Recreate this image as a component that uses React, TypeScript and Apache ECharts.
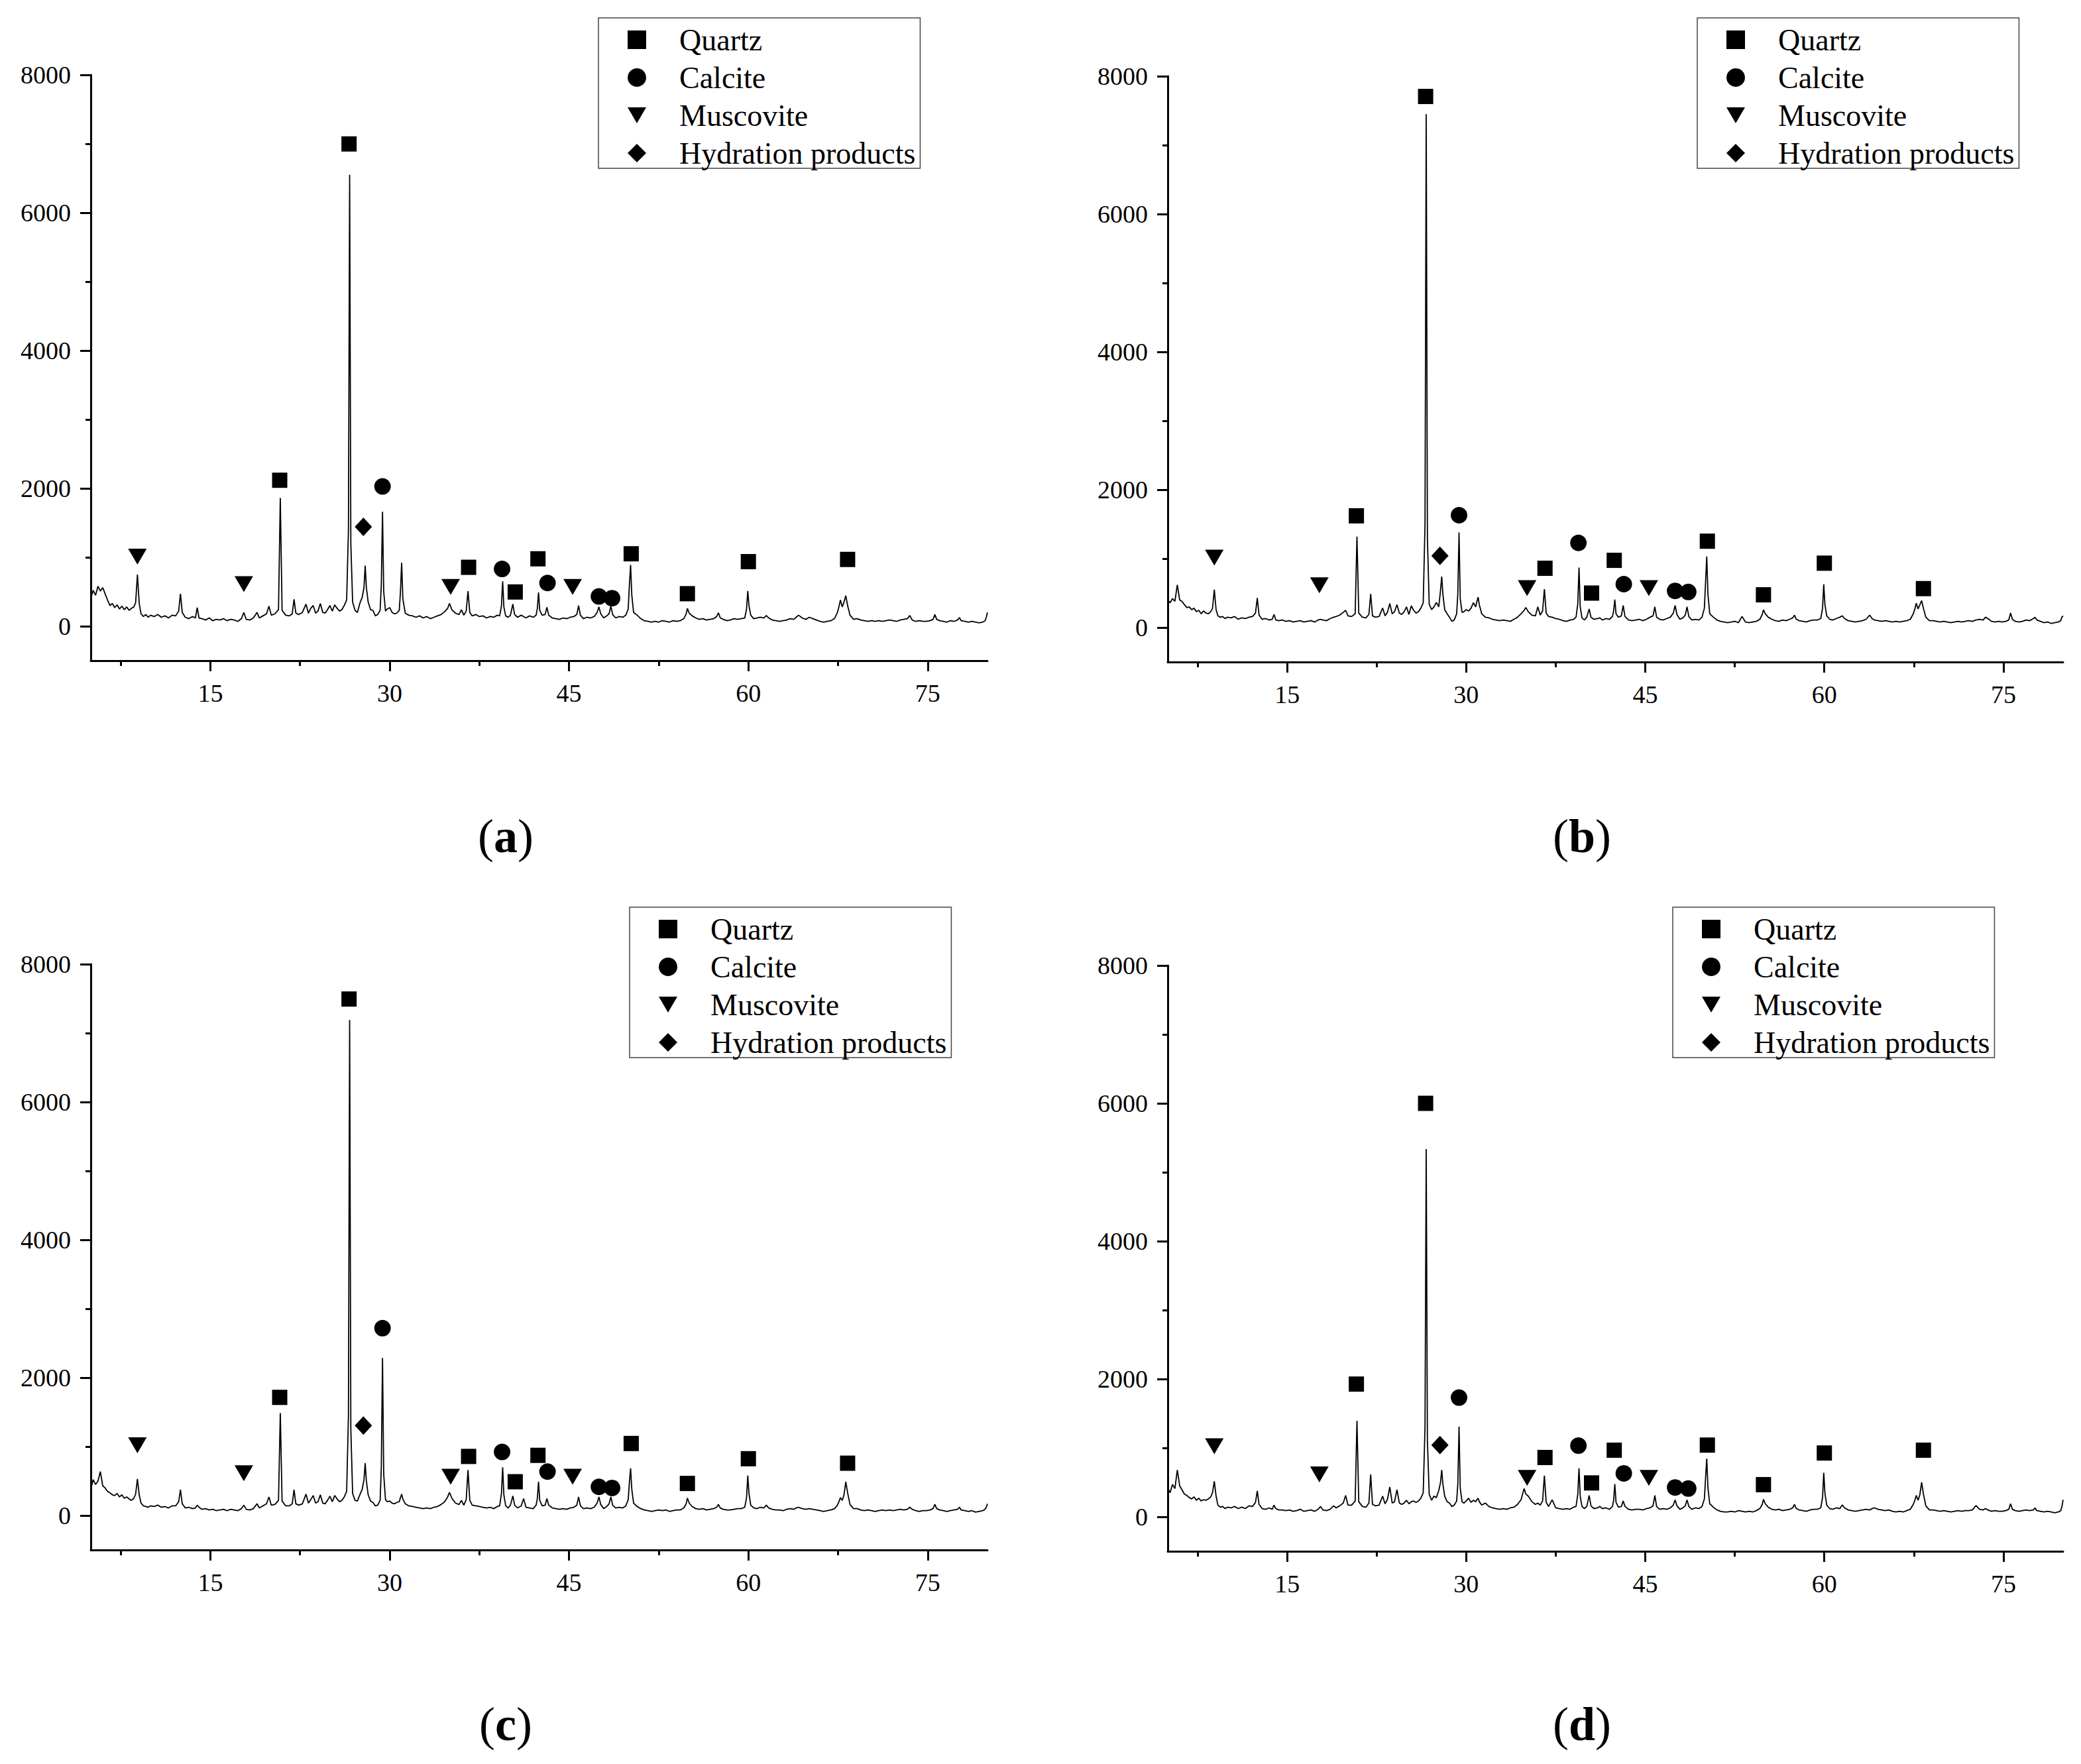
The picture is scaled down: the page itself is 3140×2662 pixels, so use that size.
import React, { useEffect, useRef } from 'react';
import * as echarts from 'echarts';

// 2θ (degrees) sampling shared by the four patterns
const twoTheta = [
  5.0, 5.2, 5.4, 5.6, 5.8, 6.0, 6.2, 6.4, 6.6, 6.8,
  7.0, 7.2, 7.4, 7.6, 7.8, 8.0, 8.2, 8.4, 8.6, 8.75,
  8.9, 9.05, 9.2, 9.4, 9.6, 9.8, 10.0, 10.3, 10.6, 10.9,
  11.2, 11.5, 11.8, 12.1, 12.35, 12.5, 12.65, 12.9, 13.2, 13.5,
  13.75, 13.9, 14.05, 14.3, 14.6, 14.9, 15.2, 15.5, 15.8, 16.1,
  16.4, 16.7, 17.0, 17.3, 17.6, 17.8, 18.0, 18.3, 18.6, 18.9,
  19.1, 19.4, 19.7, 19.9, 20.1, 20.4, 20.7, 20.85, 21.0, 21.3,
  21.6, 21.85, 22.0, 22.15, 22.4, 22.7, 23.0, 23.2, 23.4, 23.6,
  23.8, 24.0, 24.2, 24.4, 24.6, 24.8, 25.0, 25.2, 25.4, 25.6,
  25.8, 26.0, 26.2, 26.4, 26.55, 26.65, 26.75, 26.9, 27.1, 27.3,
  27.5, 27.7, 27.85, 27.95, 28.05, 28.2, 28.4, 28.6, 28.8, 29.0,
  29.2, 29.3, 29.4, 29.5, 29.65, 29.8, 30.0, 30.2, 30.4, 30.6,
  30.8, 30.9, 31.0, 31.1, 31.3, 31.6, 31.9, 32.2, 32.5, 32.8,
  33.1, 33.4, 33.7, 34.0, 34.3, 34.6, 34.85, 35.0, 35.2, 35.5,
  35.8, 36.0, 36.2, 36.4, 36.55, 36.7, 36.9, 37.2, 37.5, 37.8,
  38.1, 38.4, 38.7, 39.0, 39.2, 39.35, 39.45, 39.55, 39.7, 39.9,
  40.1, 40.3, 40.45, 40.7, 41.0, 41.2, 41.4, 41.7, 42.0, 42.25,
  42.35, 42.45, 42.55, 42.75, 43.0, 43.15, 43.3, 43.6, 43.9, 44.2,
  44.5, 44.8, 45.1, 45.4, 45.65, 45.8, 45.95, 46.2, 46.5, 46.8,
  47.1, 47.35, 47.5, 47.65, 47.9, 48.15, 48.35, 48.5, 48.65, 48.9,
  49.2, 49.5, 49.75, 49.95, 50.05, 50.15, 50.25, 50.4, 50.7, 51.0,
  51.3, 51.6, 51.9, 52.2, 52.5, 52.8, 53.1, 53.4, 53.7, 54.0,
  54.3, 54.6, 54.8, 54.9, 55.05, 55.3, 55.6, 55.9, 56.2, 56.5,
  56.8, 57.1, 57.35, 57.5, 57.65, 57.9, 58.2, 58.5, 58.8, 59.1,
  59.4, 59.7, 59.85, 59.95, 60.05, 60.2, 60.45, 60.7, 61.0, 61.3,
  61.5, 61.7, 62.0, 62.3, 62.6, 62.9, 63.2, 63.5, 63.8, 64.0,
  64.2, 64.5, 64.8, 65.1, 65.4, 65.7, 66.0, 66.3, 66.6, 66.9,
  67.2, 67.45, 67.6, 67.7, 67.85, 68.0, 68.15, 68.3, 68.5, 68.8,
  69.1, 69.4, 69.7, 70.0, 70.3, 70.6, 70.9, 71.2, 71.5, 71.8,
  72.1, 72.4, 72.7, 73.0, 73.3, 73.5, 73.7, 74.0, 74.3, 74.6,
  74.9, 75.2, 75.45, 75.6, 75.75, 76.0, 76.3, 76.6, 76.9, 77.2,
  77.5, 77.65, 77.8, 78.1, 78.4, 78.7, 79.0, 79.3, 79.6, 79.8,
  79.9, 80.0,
];

const intensityA = [
  410, 520, 450, 580, 510, 560, 470, 380, 300, 330,
  270, 310, 250, 290, 240, 280, 230, 260, 280, 340,
  750, 330, 180, 140, 170, 130, 160, 140, 170, 130,
  150, 120, 160, 150, 220, 470, 200, 130, 110, 140,
  120, 270, 120, 110, 90, 120, 80, 100, 90, 110,
  80, 100, 90, 70, 110, 200, 100, 90, 120, 200,
  120, 150, 180, 290, 160, 180, 240, 1860, 230, 160,
  150, 180, 390, 190, 170, 200, 320, 190, 260, 300,
  190, 220, 330, 200, 190, 240, 300, 220, 310, 260,
  220, 240, 300, 380, 1400, 6550, 1200, 350, 230, 200,
  330, 420, 560, 880, 560, 350, 240, 230, 150, 170,
  230, 600, 1660, 500, 220, 250, 270, 200, 180, 190,
  230, 500, 920, 400, 190, 160, 150, 130, 150, 120,
  140, 110, 130, 150, 170, 210, 260, 330, 240, 190,
  170, 240, 160, 220, 510, 200, 150, 170, 140, 150,
  120, 140, 130, 160, 150, 300, 650, 280, 150, 130,
  160, 320, 170, 130, 160, 140, 120, 150, 130, 160,
  260, 490, 230, 160, 170, 275, 160, 120, 110, 100,
  120, 110, 130, 140, 170, 300, 160, 110, 130, 120,
  140, 200, 280, 180, 120, 150, 180, 290, 170, 120,
  140, 130, 160, 250, 600, 890, 450, 200, 160, 110,
  80, 70, 60, 70, 60, 80, 70, 60, 80, 70,
  80, 110, 180, 258, 190, 150, 120, 100, 110, 90,
  100, 110, 140, 195, 120, 100, 80, 90, 110, 100,
  110, 120, 250, 512, 300, 160, 110, 120, 130, 120,
  155, 120, 90, 80, 70, 80, 90, 110, 100, 130,
  160, 120, 100, 130, 110, 90, 70, 60, 70, 80,
  110, 200, 300, 380, 280, 350, 444, 300, 160, 100,
  110, 90, 80, 70, 80, 70, 80, 70, 80, 90,
  80, 70, 90, 100, 110, 155, 90, 70, 80, 70,
  70, 80, 100, 170, 100, 80, 70, 60, 80, 70,
  90, 125, 80, 70, 60, 70, 60, 50, 60, 80,
  130, 200,
];

const intensityB = [
  400, 360, 420, 380, 620, 400, 380, 330, 290, 300,
  260, 280, 230, 250, 200, 240, 210, 200, 230, 280,
  550, 260, 170, 150, 160, 130, 150, 140, 160, 120,
  140, 130, 150, 160, 210, 430, 180, 120, 130, 110,
  120, 190, 110, 100, 110, 90, 100, 80, 90, 100,
  80, 90, 100, 80, 110, 120, 110, 100, 130, 150,
  160, 180, 220, 250, 170, 160, 200, 1320, 210, 150,
  140, 190, 487, 170, 150, 160, 283, 170, 220, 348,
  200, 230, 332, 210, 190, 230, 300, 190, 315, 250,
  210, 230, 280, 360, 1500, 7450, 1300, 340, 260, 300,
  364, 300, 540, 740, 480, 260, 200, 150, 90, 110,
  200, 500, 1380, 420, 220, 230, 260, 240, 280, 360,
  300, 380, 440, 330, 200, 150, 140, 120, 110, 100,
  110, 100, 90, 120, 150, 200, 250, 290, 230, 180,
  170, 300, 180, 240, 557, 210, 160, 150, 130, 120,
  100, 90, 110, 120, 150, 350, 870, 300, 140, 110,
  150, 270, 150, 120, 130, 140, 110, 130, 120, 160,
  240, 406, 200, 150, 170, 320, 160, 110, 100, 110,
  120, 100, 120, 150, 170, 300, 150, 120, 110, 130,
  150, 210, 320, 190, 120, 140, 180, 300, 160, 110,
  120, 110, 150, 280, 650, 1031, 480, 200, 150, 110,
  90, 80, 70, 80, 90, 70, 160, 80, 70, 80,
  90, 120, 190, 258, 200, 150, 120, 100, 90, 110,
  100, 120, 140, 180, 120, 100, 90, 80, 100, 110,
  110, 130, 280, 628, 330, 170, 120, 110, 130, 150,
  170, 130, 100, 90, 80, 90, 100, 120, 180, 130,
  110, 100, 90, 100, 90, 80, 90, 80, 90, 100,
  120, 200, 280, 354, 270, 330, 390, 280, 150, 100,
  100, 90, 80, 90, 80, 70, 80, 90, 80, 90,
  100, 90, 110, 120, 110, 150, 130, 90, 80, 90,
  80, 90, 110, 212, 120, 90, 80, 90, 110, 100,
  130, 150, 110, 90, 70, 80, 60, 70, 80, 100,
  150, 170,
];

const intensityC = [
  380, 520, 450, 500, 637, 430, 400, 350, 330, 300,
  290, 320, 270, 300, 250, 270, 240, 220, 250, 310,
  530, 300, 180, 140, 130, 120, 140, 130, 150, 120,
  130, 110, 140, 140, 200, 375, 170, 110, 120, 100,
  110, 150, 120, 90, 100, 80, 90, 70, 80, 90,
  70, 90, 80, 70, 100, 150, 90, 80, 100, 170,
  110, 140, 170, 270, 150, 160, 220, 1486, 210, 140,
  140, 170, 375, 170, 150, 170, 310, 180, 230, 290,
  180, 200, 300, 180, 170, 220, 280, 200, 290, 240,
  200, 220, 270, 350, 1450, 7190, 1250, 320, 220, 210,
  300, 380, 520, 760, 500, 300, 210, 190, 140, 150,
  220, 700, 2286, 600, 230, 200, 210, 180, 170, 190,
  200, 260, 310, 240, 170, 140, 130, 120, 110, 100,
  110, 100, 120, 130, 160, 200, 270, 335, 250, 180,
  160, 220, 150, 230, 660, 220, 150, 140, 130, 120,
  110, 120, 100, 130, 140, 320, 700, 300, 140, 110,
  150, 285, 150, 110, 140, 245, 120, 110, 100, 150,
  250, 490, 220, 140, 150, 245, 150, 110, 100, 90,
  100, 90, 110, 120, 150, 270, 140, 100, 110, 100,
  120, 180, 270, 160, 100, 130, 170, 270, 150, 110,
  120, 110, 140, 230, 480, 685, 380, 180, 130, 100,
  80, 70, 60, 70, 80, 70, 80, 60, 70, 80,
  80, 110, 170, 253, 180, 130, 100, 90, 100, 80,
  90, 100, 120, 160, 110, 90, 80, 80, 90, 100,
  100, 120, 260, 580, 320, 150, 110, 100, 120, 110,
  150, 110, 90, 80, 80, 70, 90, 100, 90, 110,
  120, 100, 90, 100, 90, 80, 70, 60, 70, 80,
  100, 150, 210, 260, 220, 300, 490, 330, 160, 100,
  100, 80, 70, 80, 70, 60, 70, 80, 70, 80,
  70, 80, 90, 80, 90, 120, 90, 70, 60, 70,
  70, 80, 100, 163, 100, 80, 70, 60, 70, 80,
  90, 120, 80, 70, 60, 70, 50, 60, 70, 90,
  120, 170,
];

const intensityD = [
  420, 350, 470, 410, 680, 450, 390, 330, 310, 280,
  260, 290, 240, 270, 230, 250, 240, 260, 290, 350,
  516, 300, 170, 140, 150, 120, 140, 130, 150, 120,
  140, 120, 160, 150, 210, 377, 180, 120, 110, 130,
  110, 170, 120, 100, 100, 90, 100, 80, 90, 110,
  80, 90, 100, 80, 110, 150, 100, 90, 110, 160,
  130, 160, 200, 311, 170, 170, 230, 1393, 220, 150,
  140, 200, 615, 180, 160, 170, 300, 190, 250, 434,
  200, 220, 393, 200, 180, 200, 240, 190, 220, 230,
  210, 230, 270, 350, 1300, 5336, 1100, 330, 240, 300,
  280, 380, 500, 680, 470, 300, 220, 200, 150, 170,
  230, 480, 1311, 420, 220, 200, 230, 270, 210, 240,
  220, 250, 270, 220, 170, 200, 150, 130, 120, 110,
  120, 110, 130, 140, 180, 250, 410, 330, 300, 220,
  180, 200, 170, 230, 598, 210, 150, 246, 130, 120,
  110, 120, 110, 140, 150, 330, 705, 300, 150, 120,
  150, 311, 160, 120, 130, 150, 120, 130, 110, 150,
  240, 475, 210, 140, 150, 230, 150, 110, 100, 110,
  110, 100, 120, 130, 160, 311, 150, 110, 120, 110,
  130, 170, 246, 160, 110, 130, 160, 246, 150, 110,
  130, 120, 150, 260, 560, 844, 420, 190, 140, 100,
  80, 70, 70, 80, 70, 90, 80, 70, 80, 70,
  90, 120, 180, 254, 190, 140, 110, 100, 110, 90,
  100, 110, 130, 180, 120, 100, 90, 80, 100, 110,
  110, 130, 280, 640, 340, 170, 120, 110, 130, 120,
  172, 130, 100, 90, 80, 90, 100, 110, 100, 120,
  130, 110, 100, 90, 100, 80, 70, 80, 70, 90,
  110, 180, 250, 311, 240, 320, 500, 330, 160, 100,
  100, 90, 80, 90, 80, 70, 80, 90, 80, 90,
  90, 100, 164, 110, 100, 120, 100, 80, 90, 80,
  80, 90, 110, 189, 110, 90, 80, 90, 100, 90,
  100, 130, 90, 80, 70, 80, 70, 60, 70, 90,
  150, 246,
];

// Phase markers [2θ, intensity]
const quartzA = [[20.8, 2118], [26.6, 6998], [36.6, 855], [40.5, 497], [42.4, 978], [50.2, 1051], [54.9, 472], [60.0, 937], [68.3, 969]];
const calciteA = [[29.4, 2028], [39.4, 831], [43.2, 627], [47.5, 432], [48.6, 407]];
const muscoviteA = [[8.9, 1010], [17.8, 611], [35.1, 570], [45.3, 570]];
const hydrationA = [[27.8, 1442]];

const quartzB = [[20.8, 1621], [26.6, 7706], [36.6, 860], [40.5, 500], [42.4, 975], [50.2, 1253], [54.9, 475], [60.0, 934], [68.3, 565]];
const calciteB = [[29.4, 1630], [39.4, 1228], [43.2, 630], [47.5, 532], [48.6, 516]];
const muscoviteB = [[8.9, 1015], [17.7, 614], [35.1, 573], [45.3, 573]];
const hydrationB = [[27.8, 1040]];

const quartzC = [[20.8, 1714], [26.6, 7494], [36.6, 857], [40.5, 490], [42.4, 873], [50.2, 1045], [54.9, 465], [60.0, 824], [68.3, 759]];
const calciteC = [[29.4, 2718], [39.4, 922], [43.2, 637], [47.5, 416], [48.6, 400]];
const muscoviteC = [[8.9, 1020], [17.8, 612], [35.1, 563], [45.3, 563]];
const hydrationC = [[27.8, 1306]];

const quartzD = [[20.8, 1926], [26.6, 6000], [36.6, 861], [40.5, 492], [42.4, 967], [50.2, 1041], [54.9, 467], [60.0, 926], [68.3, 967]];
const calciteD = [[29.4, 1730], [39.4, 1033], [43.2, 631], [47.5, 426], [48.6, 410]];
const muscoviteD = [[8.9, 1025], [17.7, 615], [35.1, 566], [45.3, 566]];
const hydrationD = [[27.8, 1041]];

const panelLetters = ['a', 'b', 'c', 'd'];
const phaseNames = ['Quartz', 'Calcite', 'Muscovite', 'Hydration products'];
const xMajorTicks = [15, 30, 45, 60, 75];
const xMinorTicks = [7.5, 22.5, 37.5, 52.5, 67.5];
const yMajorTicks = [0, 2000, 4000, 6000, 8000];
const yMinorTicks = [1000, 3000, 5000, 7000];

const panelData = [
  { intensity: intensityA, quartz: quartzA, calcite: calciteA, muscovite: muscoviteA, hydration: hydrationA },
  { intensity: intensityB, quartz: quartzB, calcite: calciteB, muscovite: muscoviteB, hydration: hydrationB },
  { intensity: intensityC, quartz: quartzC, calcite: calciteC, muscovite: muscoviteC, hydration: hydrationC },
  { intensity: intensityD, quartz: quartzD, calcite: calciteD, muscovite: muscoviteD, hydration: hydrationD },
];

// layout (pixels)
const gridLayout = [
  { left: 137, top: 113, width: 1353, height: 884 },
  { left: 1762, top: 115, width: 1351, height: 884 },
  { left: 137, top: 1455, width: 1353, height: 884 },
  { left: 1762, top: 1457, width: 1351, height: 884 },
];
const legendLayout = [
  { left: 903, top: 27 },
  { left: 2561, top: 27 },
  { left: 950, top: 1369 },
  { left: 2524, top: 1369 },
];
const labelLayout = [
  [763, 1262],
  [2387, 1262],
  [763, 2602],
  [2387, 2602],
];

const FONT = "'Liberation Serif', 'Times New Roman', Times, serif";
const TRI = 'path://M0,0L28,0L14,24Z';

function buildOption() {
  const grid: any[] = [];
  const xAxis: any[] = [];
  const yAxis: any[] = [];
  const series: any[] = [];
  const legend: any[] = [];
  const graphic: any[] = [];
  const tickText = { fontSize: 38, fontFamily: 'Liberation Serif', color: '#000' };
  const labelStyle = {
    ...tickText,
    formatter: (v: number) => '{t|' + String(v) + '}',
    rich: { t: { ...tickText } },
  };

  panelData.forEach((p, i) => {
    grid.push({ ...gridLayout[i], containLabel: false });
    const axisCommon = {
      type: 'value',
      gridIndex: i,
      splitLine: { show: false },
    };
    xAxis.push({
      ...axisCommon,
      min: 5,
      max: 80,
      position: 'bottom',
      axisLine: { show: true, onZero: false, lineStyle: { color: '#000', width: 3 } },
      axisTick: { show: true, customValues: xMajorTicks, length: 16, lineStyle: { color: '#000', width: 3 } },
      axisLabel: { show: true, customValues: xMajorTicks, margin: 30, ...labelStyle },
    });
    xAxis.push({
      ...axisCommon,
      min: 5,
      max: 80,
      position: 'bottom',
      axisLine: { show: false, onZero: false },
      axisTick: { show: true, customValues: xMinorTicks, length: 8, lineStyle: { color: '#000', width: 3 } },
      axisLabel: { show: false },
    });
    yAxis.push({
      ...axisCommon,
      min: -500,
      max: 8000,
      position: 'left',
      axisLine: { show: true, onZero: false, lineStyle: { color: '#000', width: 3 } },
      axisTick: { show: true, customValues: yMajorTicks, length: 16, lineStyle: { color: '#000', width: 3 } },
      axisLabel: { show: true, customValues: yMajorTicks, margin: 30, ...labelStyle },
    });
    yAxis.push({
      ...axisCommon,
      min: -500,
      max: 8000,
      position: 'left',
      axisLine: { show: false, onZero: false },
      axisTick: { show: true, customValues: yMinorTicks, length: 8, lineStyle: { color: '#000', width: 3 } },
      axisLabel: { show: false },
    });

    const xi = i * 2;
    const yi = i * 2;
    series.push({
      type: 'line',
      name: 'XRD ' + panelLetters[i],
      xAxisIndex: xi,
      yAxisIndex: yi,
      data: twoTheta.map((t, k) => [t, p.intensity[k]]),
      showSymbol: false,
      symbol: 'none',
      lineStyle: { color: '#000', width: 1.8 },
      silent: true,
      z: 2,
    });
    const markerSeries = [
      { name: phaseNames[0], data: p.quartz, symbol: 'rect', symbolSize: 23 },
      { name: phaseNames[1], data: p.calcite, symbol: 'circle', symbolSize: 25 },
      { name: phaseNames[2], data: p.muscovite, symbol: TRI, symbolSize: [28, 24] },
      { name: phaseNames[3], data: p.hydration, symbol: 'diamond', symbolSize: [26, 28] },
    ];
    markerSeries.forEach((m) => {
      series.push({
        type: 'scatter',
        name: m.name,
        xAxisIndex: xi,
        yAxisIndex: yi,
        data: m.data,
        symbol: m.symbol,
        symbolSize: m.symbolSize,
        itemStyle: { color: '#000', opacity: 1 },
        z: 3,
      });
    });

    legend.push({
      orient: 'vertical',
      left: legendLayout[i].left,
      top: legendLayout[i].top,
      padding: [10, 7, 0, 44],
      itemGap: 11,
      itemWidth: 28,
      itemHeight: 28,
      borderColor: '#444',
      borderWidth: 1.5,
      selectedMode: false,
      data: [
        { name: phaseNames[0], icon: 'rect', itemStyle: { color: '#000', opacity: 1 } },
        { name: phaseNames[1], icon: 'circle', itemStyle: { color: '#000', opacity: 1 } },
        { name: phaseNames[2], icon: TRI, itemStyle: { color: '#000', opacity: 1 } },
        { name: phaseNames[3], icon: 'diamond', itemStyle: { color: '#000', opacity: 1 } },
      ],
      textStyle: { fontSize: 46, fontFamily: FONT, color: '#000', lineHeight: 46, padding: [0, 0, 0, 45] },
    });

    graphic.push({
      type: 'text',
      x: labelLayout[i][0],
      y: labelLayout[i][1],
      style: {
        text: '{p|(}{b|' + panelLetters[i] + '}{p|)}',
        align: 'center',
        verticalAlign: 'middle',
        rich: {
          p: { fontSize: 72, fontFamily: FONT, fill: '#000' },
          b: { fontSize: 72, fontFamily: FONT, fontWeight: 'bold', fill: '#000' },
        },
      },
    });
  });

  return {
    animation: false,
    backgroundColor: '#fff',
    textStyle: { fontFamily: FONT, color: '#000' },
    grid,
    xAxis,
    yAxis,
    series,
    legend,
    graphic,
  };
}

export default function App() {
  const ref = useRef<HTMLDivElement>(null);
  useEffect(() => {
    document.body.style.margin = '0';
    if (!ref.current) return;
    const chart = echarts.init(ref.current, undefined, { renderer: 'svg' });
    chart.setOption(buildOption() as any);
    return () => {
      chart.dispose();
    };
  }, []);
  return <div ref={ref} style={{ width: 3140, height: 2662, background: '#fff' }} />;
}
